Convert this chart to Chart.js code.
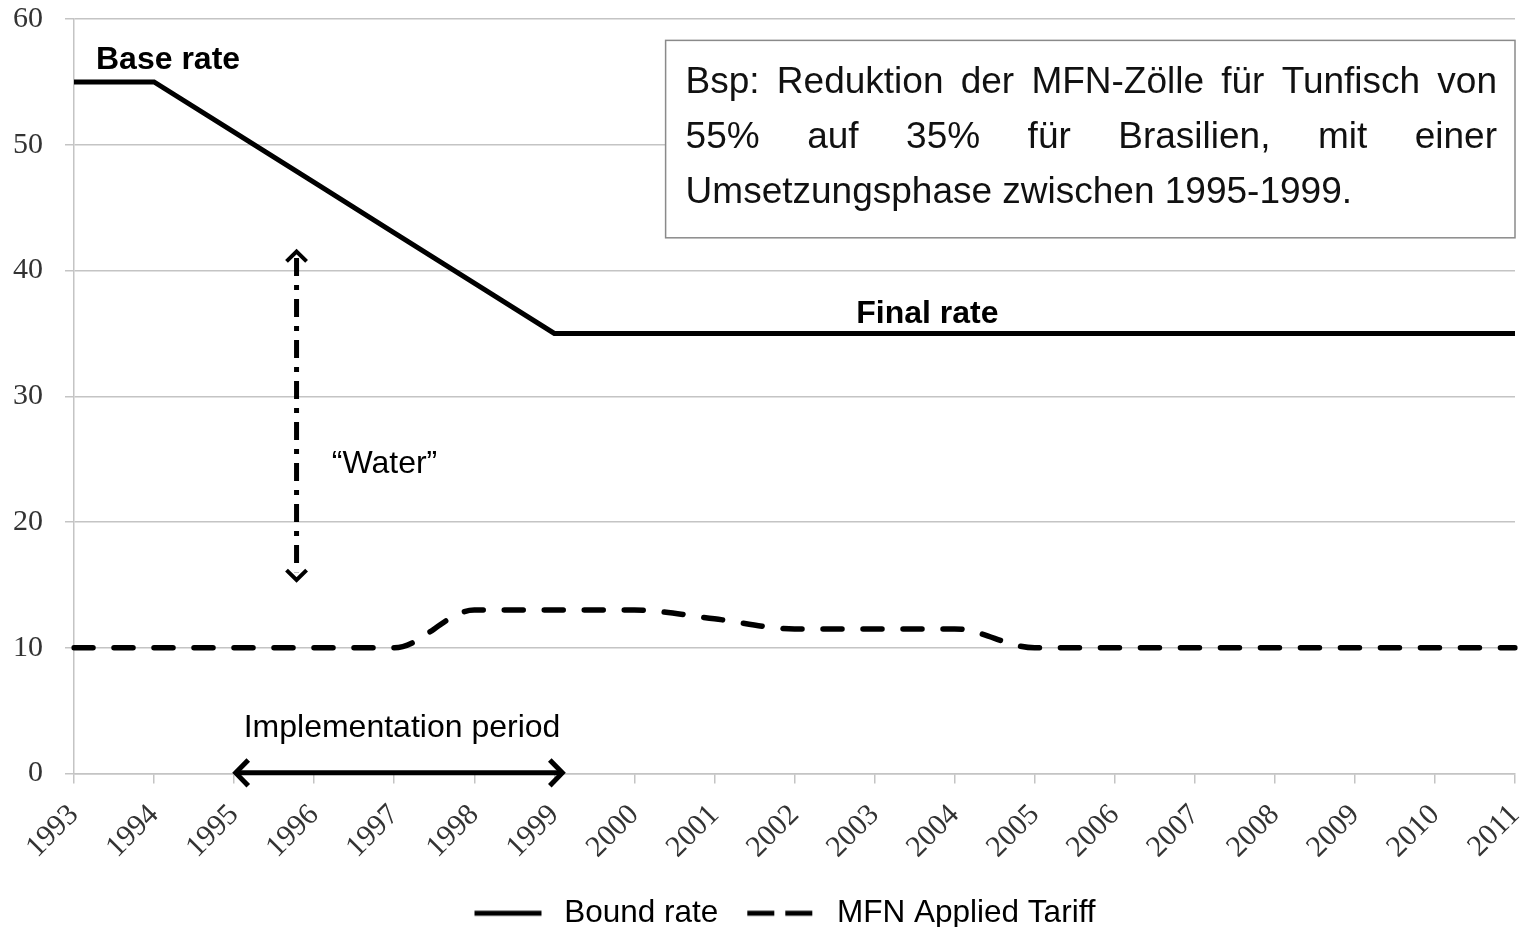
<!DOCTYPE html>
<html>
<head>
<meta charset="utf-8">
<script src="https://cdn.jsdelivr.net/npm/chart.js@4.4.1/dist/chart.umd.min.js"></script>
<style>
  html, body { margin: 0; padding: 0; background: #fff; }
  #wrap { width: 1521px; height: 927px; }
</style>
</head>
<body>
<div id="wrap"><canvas id="tariffChart" width="1521" height="927"></canvas></div>
<script>
// years on the x axis
const years = ['1993', '1994', '1995', '1996', '1997', '1998', '1999', '2000', '2001', '2002',
               '2003', '2004', '2005', '2006', '2007', '2008', '2009', '2010', '2011'];
// bound rate (%)
const boundRate = [55, 55, 51, 47, 43, 39, 35, 35, 35, 35, 35, 35, 35, 35, 35, 35, 35, 35, 35];
// MFN applied tariff (%)
const mfnApplied = [10, 10, 10, 10, 10, 13, 13, 13, 12.3, 11.5, 11.5, 11.5, 10, 10, 10, 10, 10, 10, 10];
const yTicks = [0, 10, 20, 30, 40, 50, 60];

const sans = '"Liberation Sans", Arial, sans-serif';
const serif = '"Liberation Serif", "Times New Roman", serif';
const gridGray = '#c4c4c4';

// little canvases used as legend symbols (solid / dashed line)
function legendSymbol(dash) {
    const c = document.createElement('canvas');
    c.width = 103; c.height = 8;
    const g = c.getContext('2d');
    g.strokeStyle = '#000';
    g.lineWidth = 5;
    g.setLineDash(dash);
    g.beginPath();
    g.moveTo(29, 4);
    g.lineTo(96, 4);
    g.stroke();
    return c;
}
const symbols = [legendSymbol([]), legendSymbol([27, 11])];

function chevron(ctx, x, y, dir, size) {
    // open arrow head, dir = angle the arrow points to
    ctx.beginPath();
    ctx.moveTo(x - Math.cos(dir - 0.8) * size, y - Math.sin(dir - 0.8) * size);
    ctx.lineTo(x, y);
    ctx.lineTo(x - Math.cos(dir + 0.8) * size, y - Math.sin(dir + 0.8) * size);
    ctx.stroke();
}

function justified(ctx, text, x, y, width) {
    const words = text.split(' ');
    const total = words.reduce((s, w) => s + ctx.measureText(w).width, 0);
    const gap = (width - total) / (words.length - 1);
    let cx = x;
    words.forEach(w => {
        ctx.fillText(w, cx, y);
        cx += ctx.measureText(w).width + gap;
    });
}

// texts and arrows sitting on the plot
const notes = {
    id: 'notes',
    afterDatasetsDraw(chart) {
        const ctx = chart.ctx;
        const x = chart.scales.x, y = chart.scales.y;
        const px = v => x.getPixelForValue(v);
        const py = v => y.getPixelForValue(v);
        ctx.save();
        ctx.fillStyle = '#000';
        ctx.strokeStyle = '#000';
        ctx.textBaseline = 'middle';

        ctx.font = 'bold 32px ' + sans;
        ctx.fillText('Base rate', px(0.275), py(56.7));
        ctx.textAlign = 'center';
        ctx.fillText('Final rate', px(10.66), py(36.5));
        ctx.textAlign = 'left';

        // info box
        const bx0 = px(7.39), bx1 = chart.chartArea.right;
        const by0 = py(58.3), by1 = py(42.6);
        ctx.fillStyle = '#fff';
        ctx.fillRect(bx0, by0, bx1 - bx0, by1 - by0);
        ctx.strokeStyle = '#8a8a8a';
        ctx.lineWidth = 1.5;
        ctx.strokeRect(bx0, by0, bx1 - bx0, by1 - by0);
        ctx.fillStyle = '#111';
        ctx.font = '37px ' + sans;
        const tx = bx0 + 20, tw = bx1 - bx0 - 38;
        justified(ctx, 'Bsp: Reduktion der MFN-Zölle für Tunfisch von', tx, by0 + 42, tw);
        justified(ctx, '55% auf 35% für Brasilien, mit einer', tx, by0 + 97, tw);
        ctx.fillText('Umsetzungsphase zwischen 1995-1999.', tx, by0 + 152);

        // "Water" arrow
        ctx.fillStyle = '#000';
        ctx.font = '32px ' + sans;
        ctx.fillText('\u201cWater\u201d', px(3.22), py(24.6));
        const wx = px(2.78);
        ctx.strokeStyle = '#000';
        ctx.lineWidth = 5;
        ctx.setLineDash([18, 9, 5, 9]);
        ctx.beginPath();
        ctx.moveTo(wx, py(41.0));
        ctx.lineTo(wx, py(16.0));
        ctx.stroke();
        ctx.setLineDash([]);
        ctx.lineWidth = 4;
        chevron(ctx, wx, py(41.5), -Math.PI / 2, 14);
        chevron(ctx, wx, py(15.4), Math.PI / 2, 14);

        // implementation period arrow
        ctx.font = '32px ' + sans;
        ctx.fillText('Implementation period', px(2.12), py(3.6));
        const iy = py(0.05);
        ctx.lineWidth = 5;
        ctx.beginPath();
        ctx.moveTo(px(2.03), iy);
        ctx.lineTo(px(6.08), iy);
        ctx.stroke();
        chevron(ctx, px(2.02), iy, Math.PI, 18);
        chevron(ctx, px(6.1), iy, 0, 18);
        ctx.restore();
    }
};

const ctx = document.getElementById('tariffChart').getContext('2d');
new Chart(ctx, {
    type: 'line',
    data: {
        labels: years,
        datasets: [
            {
                label: 'Bound rate',
                data: boundRate,
                borderColor: '#000',
                backgroundColor: '#000',
                borderWidth: 5,
                pointRadius: 0,
                tension: 0
            },
            {
                label: 'MFN Applied Tariff',
                data: mfnApplied,
                borderColor: '#000',
                backgroundColor: '#000',
                borderWidth: 5.5,
                borderDash: [19, 21],
                borderCapStyle: 'round',
                pointRadius: 0,
                cubicInterpolationMode: 'monotone'
            }
        ]
    },
    options: {
        responsive: false,
        animation: false,
        // negative right padding + empty right axis: keeps the plot in place, moves legend centre right
        layout: { padding: { top: 19, right: -20, left: 0, bottom: -12 } },
        plugins: {
            tooltip: { enabled: false },
            legend: {
                position: 'bottom',
                labels: {
                    color: '#000',
                    font: { family: sans, size: 31.5, lineHeight: 1 },
                    usePointStyle: true,
                    pointStyleWidth: 103,
                    padding: 0,
                    generateLabels: chart => Chart.defaults.plugins.legend.labels.generateLabels(chart)
                        .map((item, i) => Object.assign(item, { pointStyle: symbols[i] }))
                }
            }
        },
        scales: {
            x: {
                afterFit: s => { s.height = 124; s.paddingRight = 0; s.paddingLeft = 0; },
                grid: { drawOnChartArea: false, drawTicks: true, tickLength: 10, color: gridGray, lineWidth: 1.5 },
                border: { color: gridGray, width: 1.5 },
                ticks: {
                    autoSkip: false,
                    minRotation: 45,
                    maxRotation: 45,
                    color: '#333',
                    padding: 14,
                    font: { family: serif, size: 30 }
                }
            },
            y: {
                min: 0,
                max: 60,
                afterFit: s => { s.width = 74; s.paddingTop = 0; s.paddingBottom = 0; },
                afterBuildTicks: s => { s.ticks = yTicks.map(v => ({ value: v })); },
                grid: { color: gridGray, lineWidth: 1.5, tickLength: 9 },
                border: { color: gridGray, width: 1.5 },
                ticks: {
                    color: '#333',
                    padding: 22,
                    font: { family: serif, size: 30 }
                }
            },
            spacer: {
                type: 'linear',
                position: 'right',
                afterFit: s => { s.width = 26; s.paddingTop = 0; s.paddingBottom = 0; },
                grid: { display: false },
                border: { display: false },
                ticks: { display: false }
            }
        }
    },
    plugins: [notes]
});
</script>
</body>
</html>
